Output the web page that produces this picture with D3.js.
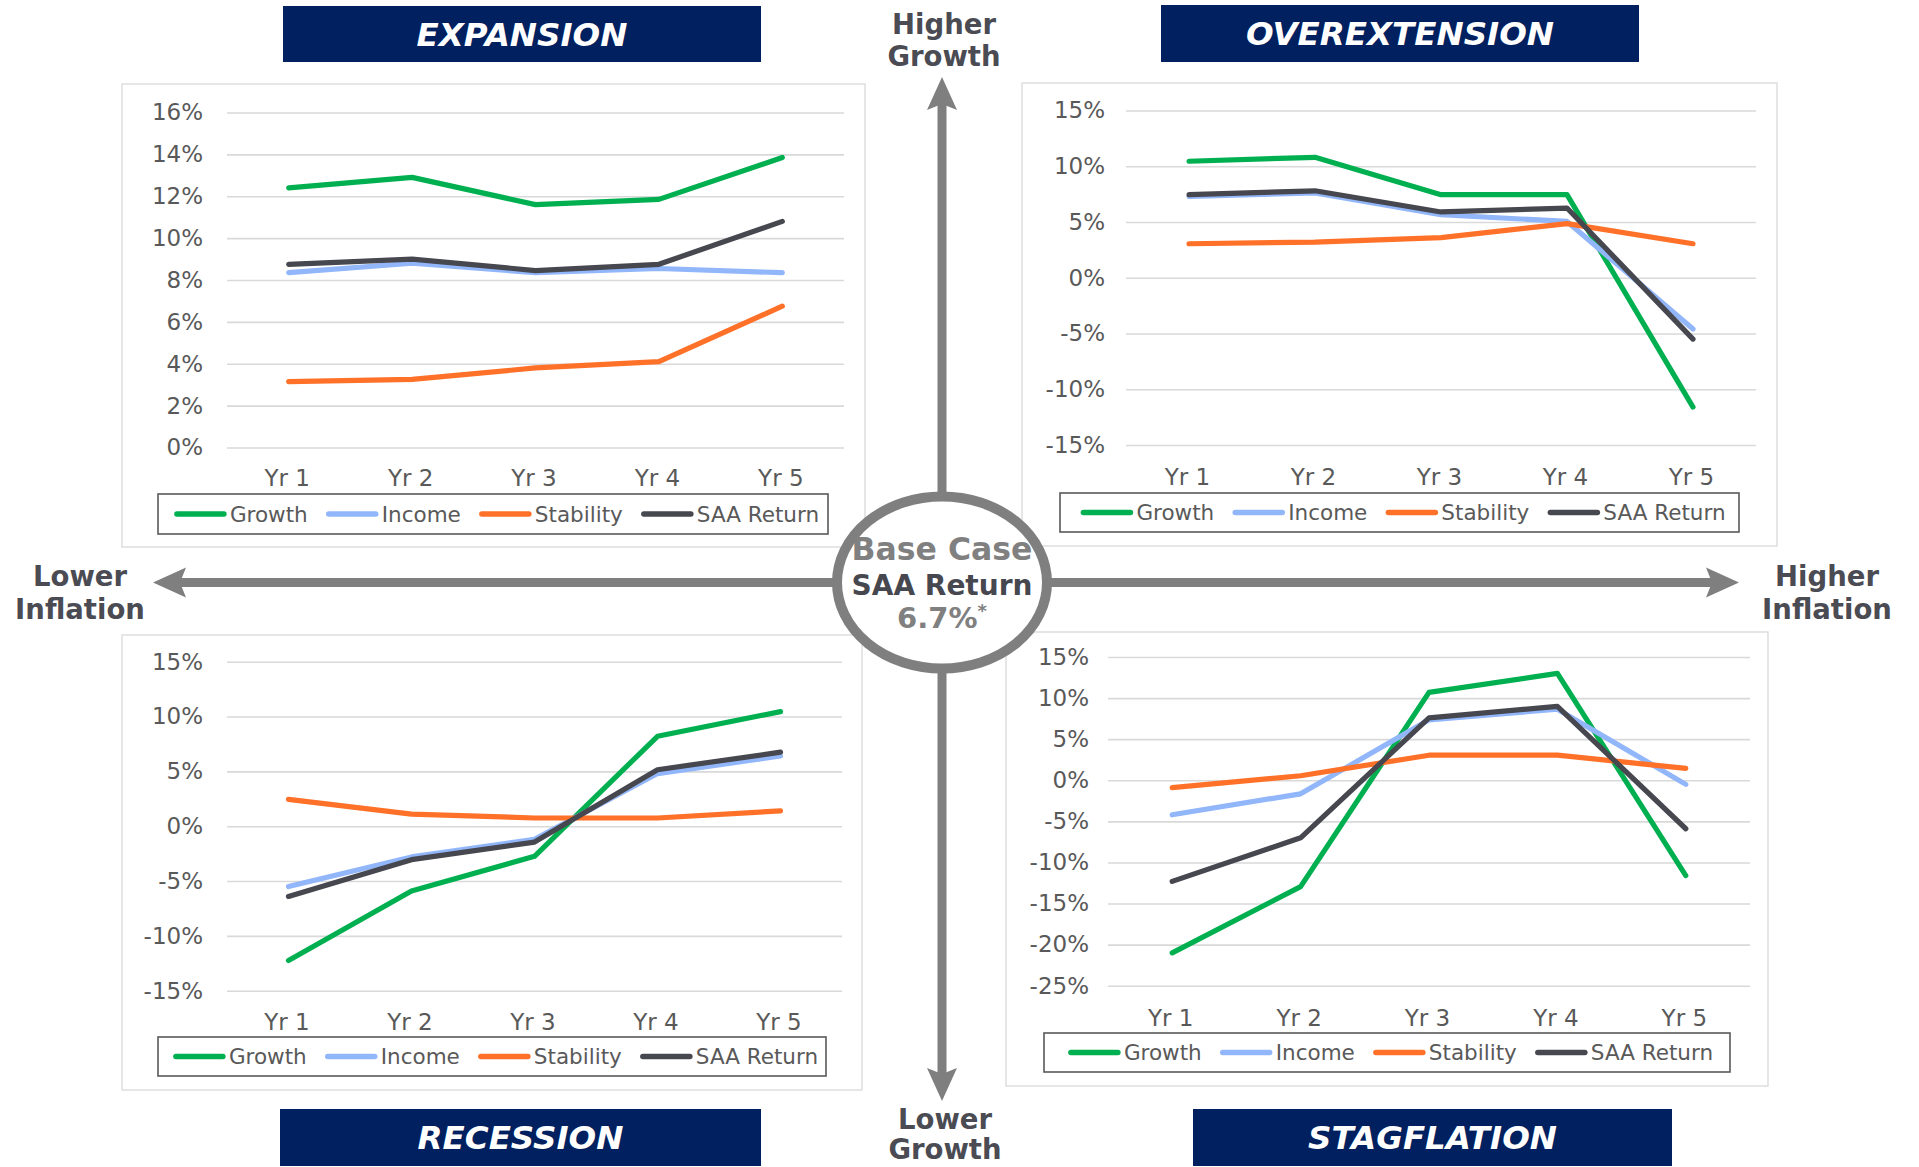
<!DOCTYPE html>
<html>
<head>
<meta charset="utf-8">
<script src="https://cdn.jsdelivr.net/npm/d3@7"></script>
<style>
  html, body { margin: 0; padding: 0; background: #ffffff; }
  svg { display: block; }
</style>
</head>
<body>
<svg id="chart" width="1919" height="1167"></svg>
<script>
// Five-year return paths for each macro scenario, in percent
const years = ["Yr 1", "Yr 2", "Yr 3", "Yr 4", "Yr 5"];
const seriesNames = ["Growth", "Income", "Stability", "SAA Return"];
const seriesColors = ["#00b050", "#92b6fa", "#ff7128", "#46474f"];

// Series order in each table: Growth, Income, Stability, SAA Return
const expansionValues = [
  [12.4, 12.9, 11.6, 11.85, 13.85],
  [8.35, 8.8, 8.35, 8.55, 8.35],
  [3.15, 3.25, 3.8, 4.1, 6.75],
  [8.75, 9.0, 8.45, 8.75, 10.8]
];
const overextensionValues = [
  [10.45, 10.8, 7.45, 7.45, -11.6],
  [7.3, 7.6, 5.65, 5.05, -4.6],
  [3.05, 3.2, 3.6, 4.85, 3.05],
  [7.45, 7.8, 5.9, 6.25, -5.5]
];
const recessionValues = [
  [-12.25, -5.9, -2.75, 8.2, 10.45],
  [-5.5, -2.8, -1.2, 4.8, 6.4],
  [2.45, 1.1, 0.75, 0.75, 1.4],
  [-6.4, -3.05, -1.45, 5.15, 6.75]
];
const stagflationValues = [
  [-21.0, -12.95, 10.7, 13.0, -11.6],
  [-4.2, -1.65, 7.35, 8.65, -0.5],
  [-0.9, 0.55, 3.05, 3.05, 1.45],
  [-12.3, -7.0, 7.6, 9.0, -5.9]
];

const expansionTicks = [0, 2, 4, 6, 8, 10, 12, 14, 16];
const overextensionTicks = [-15, -10, -5, 0, 5, 10, 15];
const recessionTicks = [-15, -10, -5, 0, 5, 10, 15];
const stagflationTicks = [-25, -20, -15, -10, -5, 0, 5, 10, 15];

const baseCaseReturn = "6.7%";

const FONT = "'DejaVu Sans', Verdana, sans-serif";
const pct = d => (d < 0 ? "-" : "") + Math.abs(d) + "%";

const svg = d3.select("#chart");
svg.append("rect").attr("width", 1919).attr("height", 1167).attr("fill", "#ffffff");

// Layout for the four quadrant panels
const panels = [
  { title: "EXPANSION", values: expansionValues, ticks: expansionTicks,
    box: [122, 84, 865, 547], xr: [227, 844], yr: [447.5, 112.5],
    tickRight: 203, xLabelY: 478, legend: [158, 494, 828, 534],
    banner: [283, 6, 761, 62] },
  { title: "OVEREXTENSION", values: overextensionValues, ticks: overextensionTicks,
    box: [1022, 83, 1777, 546], xr: [1126, 1756], yr: [445, 110.5],
    tickRight: 1105, xLabelY: 476.5, legend: [1060, 493, 1739, 532],
    banner: [1161, 5, 1639, 62] },
  { title: "RECESSION", values: recessionValues, ticks: recessionTicks,
    box: [122, 635, 862, 1090], xr: [227, 842], yr: [990.7, 661.7],
    tickRight: 203, xLabelY: 1021.5, legend: [158, 1037, 826, 1076],
    banner: [280, 1109, 761, 1166] },
  { title: "STAGFLATION", values: stagflationValues, ticks: stagflationTicks,
    box: [1006, 632, 1768, 1086], xr: [1108, 1750], yr: [985.7, 657],
    tickRight: 1089, xLabelY: 1017.5, legend: [1044, 1033, 1730, 1072],
    banner: [1193, 1109, 1672, 1166] }
];

panels.forEach(p => {
  const g = svg.append("g");
  const [bx0, by0, bx1, by1] = p.box;

  // panel frame
  g.append("rect")
    .attr("x", bx0).attr("y", by0)
    .attr("width", bx1 - bx0).attr("height", by1 - by0)
    .attr("fill", "#ffffff").attr("stroke", "#d9d9d9").attr("stroke-width", 1.3);

  const x = d3.scalePoint().domain(years).range(p.xr).padding(0.5);
  const y = d3.scaleLinear()
    .domain([d3.min(p.ticks), d3.max(p.ticks)])
    .range(p.yr);

  // horizontal gridlines + value axis labels
  const yAxis = d3.axisLeft(y)
    .tickValues(p.ticks)
    .tickFormat(pct)
    .tickSize(-(p.xr[1] - p.xr[0]))
    .tickPadding(p.xr[0] - p.tickRight);
  const ya = g.append("g")
    .attr("transform", `translate(${p.xr[0]},0)`)
    .call(yAxis);
  ya.select(".domain").remove();
  ya.selectAll(".tick line").attr("stroke", "#d9d9d9").attr("stroke-width", 1.6);
  ya.selectAll(".tick text")
    .attr("fill", "#595959").attr("font-family", FONT).attr("font-size", 23);

  // category axis labels
  const xAxis = d3.axisBottom(x).tickSize(0).tickPadding(0);
  const xa = g.append("g")
    .attr("transform", `translate(-2,${p.xLabelY})`)
    .call(xAxis);
  xa.select(".domain").remove();
  xa.selectAll(".tick text")
    .attr("dy", "0.35em")
    .attr("fill", "#595959").attr("font-family", FONT).attr("font-size", 23);

  // series lines
  const line = d3.line()
    .x((d, i) => x(years[i]))
    .y(d => y(d));
  p.values.forEach((vals, si) => {
    g.append("path")
      .datum(vals)
      .attr("d", line)
      .attr("fill", "none")
      .attr("stroke", seriesColors[si])
      .attr("stroke-width", 5.2)
      .attr("stroke-linejoin", "round")
      .attr("stroke-linecap", "round");
  });

  // legend
  const [lx0, ly0, lx1, ly1] = p.legend;
  g.append("rect")
    .attr("x", lx0).attr("y", ly0)
    .attr("width", lx1 - lx0).attr("height", ly1 - ly0)
    .attr("fill", "#ffffff").attr("stroke", "#595959").attr("stroke-width", 1.6);
  const lg = g.append("g");
  const lineLen = 51, lineGap = 4, itemGap = 19;
  const ly = (ly0 + ly1) / 2;
  let cx = 0;
  seriesNames.forEach((name, si) => {
    lg.append("line")
      .attr("x1", cx + 2).attr("x2", cx + lineLen - 2)
      .attr("y1", ly).attr("y2", ly)
      .attr("stroke", seriesColors[si]).attr("stroke-width", 5.5)
      .attr("stroke-linecap", "round");
    const t = lg.append("text")
      .attr("x", cx + lineLen + lineGap).attr("y", ly)
      .attr("dy", "0.35em")
      .attr("fill", "#595959").attr("font-family", FONT).attr("font-size", 21.5)
      .text(name);
    cx += lineLen + lineGap + t.node().getComputedTextLength() + itemGap;
  });
  const total = cx - itemGap;
  lg.attr("transform", `translate(${(lx0 + lx1) / 2 - total / 2 + 4},0)`);

  // scenario banner
  const [tx0, ty0, tx1, ty1] = p.banner;
  g.append("rect")
    .attr("x", tx0).attr("y", ty0)
    .attr("width", tx1 - tx0).attr("height", ty1 - ty0)
    .attr("fill", "#002060");
  g.append("text")
    .attr("x", (tx0 + tx1) / 2).attr("y", (ty0 + ty1) / 2)
    .attr("dy", "0.36em")
    .attr("text-anchor", "middle")
    .attr("fill", "#ffffff")
    .attr("font-family", FONT).attr("font-weight", "bold").attr("font-style", "italic")
    .attr("font-size", 32.5)
    .text(p.title);
});

// Growth / inflation axes through the centre
const axisColor = "#7f7f7f";
const cxC = 942, cyC = 582.5;
const ax = svg.append("g");
ax.append("line").attr("x1", cxC).attr("x2", cxC).attr("y1", 100).attr("y2", 1075)
  .attr("stroke", axisColor).attr("stroke-width", 9);
ax.append("line").attr("x1", 178).attr("x2", 1714).attr("y1", cyC).attr("y2", cyC)
  .attr("stroke", axisColor).attr("stroke-width", 9);
const head = (pts) => ax.append("path")
  .attr("d", "M" + pts.map(p => p.join(",")).join("L") + "Z")
  .attr("fill", axisColor);
head([[cxC, 77], [cxC - 15, 110], [cxC, 104], [cxC + 15, 110]]);
head([[cxC, 1101], [cxC - 15, 1068], [cxC, 1074], [cxC + 15, 1068]]);
head([[153, cyC], [186, cyC - 15], [180, cyC], [186, cyC + 15]]);
head([[1739, cyC], [1706, cyC - 15], [1712, cyC], [1706, cyC + 15]]);

// Base case bubble
ax.append("ellipse")
  .attr("cx", cxC).attr("cy", cyC).attr("rx", 105).attr("ry", 86)
  .attr("fill", "#ffffff").attr("stroke", axisColor).attr("stroke-width", 10);
ax.append("text").attr("x", cxC).attr("y", 560).attr("text-anchor", "middle")
  .attr("font-family", FONT).attr("font-weight", "bold").attr("font-size", 31.5)
  .attr("fill", "#808080").text("Base Case");
ax.append("text").attr("x", cxC).attr("y", 595).attr("text-anchor", "middle")
  .attr("font-family", FONT).attr("font-weight", "bold").attr("font-size", 28)
  .attr("fill", "#46474f").text("SAA Return");
const rt = ax.append("text").attr("x", cxC).attr("y", 628).attr("text-anchor", "middle")
  .attr("font-family", FONT).attr("font-weight", "bold").attr("font-size", 29)
  .attr("fill", "#808080");
rt.append("tspan").text(baseCaseReturn);
rt.append("tspan").attr("dy", -11).attr("font-size", 18).text("*");

// Quadrant direction labels
const dirLabels = [
  { lines: ["Higher", "Growth"], x: 944, y: [34, 66] },
  { lines: ["Lower", "Growth"], x: 945, y: [1129, 1159] },
  { lines: ["Lower", "Inflation"], x: 80, y: [586, 619] },
  { lines: ["Higher", "Inflation"], x: 1827, y: [586, 619] }
];
dirLabels.forEach(l => {
  l.lines.forEach((s, i) => {
    svg.append("text")
      .attr("x", l.x).attr("y", l.y[i])
      .attr("text-anchor", "middle")
      .attr("font-family", FONT).attr("font-weight", "bold").attr("font-size", 27.5)
      .attr("fill", "#4a4b53")
      .text(s);
  });
});
</script>
</body>
</html>
